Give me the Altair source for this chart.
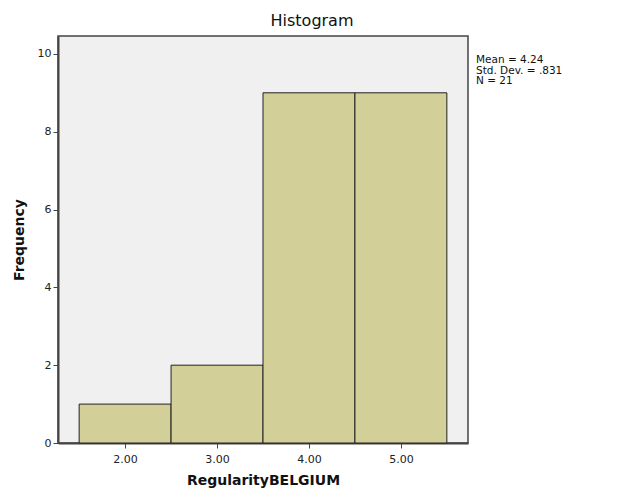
import altair as alt
import pandas as pd

bin_start = [1.5, 2.5, 3.5, 4.5]
bin_end = [2.5, 3.5, 4.5, 5.5]
frequency = [1, 2, 9, 9]
x_ticks = [2, 3, 4, 5]
y_ticks = [0, 2, 4, 6, 8, 10]
stats_lines = ["Mean = 4.24", "Std. Dev. = .831", "N = 21"]

df = pd.DataFrame({"start": bin_start, "end": bin_end, "freq": frequency})

W, H = 410, 407
FONT = "DejaVu Sans"

bars = alt.Chart(df).mark_rect(
    fill="#D3CF98", stroke="#222222", strokeWidth=1
).encode(
    x=alt.X("start:Q",
            scale=alt.Scale(domain=[1.27, 5.73], nice=False, zero=False),
            axis=alt.Axis(values=x_ticks, format=".2f", title="RegularityBELGIUM",
                          grid=False, domainColor="#444444", domainWidth=2,
                          tickColor="#444444", tickSize=5, labelFont=FONT,
                          labelFontSize=11, labelColor="#222222", labelPadding=5,
                          titleFont=FONT, titleFontSize=14, titleFontWeight="bold",
                          titleColor="#111111", titlePadding=9)),
    x2="end:Q",
    y=alt.Y("freq:Q",
            scale=alt.Scale(domain=[0, 10.46], nice=False),
            axis=alt.Axis(values=y_ticks, format="d", title="Frequency",
                          grid=False, domainColor="#444444", domainWidth=2,
                          tickColor="#444444", tickSize=5, labelFont=FONT,
                          labelFontSize=11, labelColor="#222222", labelPadding=2,
                          titleFont=FONT, titleFontSize=14, titleFontWeight="bold",
                          titleColor="#111111", titlePadding=11)),
    y2=alt.datum(0),
)

layers = [bars]
for i, line in enumerate(stats_lines):
    layers.append(
        alt.Chart(pd.DataFrame({"line": [line]})).mark_text(
            align="left", baseline="middle", font=FONT, fontSize=10.5, color="#111111"
        ).encode(x=alt.value(W + 8), y=alt.value(24 + 10.5 * i), text="line:N")
    )

layers.append(
    alt.Chart(pd.DataFrame({"t": ["Histogram"]})).mark_text(
        align="center", baseline="middle", font=FONT, fontSize=16, color="#111111"
    ).encode(x=alt.value(254), y=alt.value(-15), text="t:N")
)

chart = alt.layer(*layers).properties(
    width=W, height=H,
    autosize=alt.AutoSizeParams(type="none"),
    padding={"left": 50, "top": 28, "right": 150, "bottom": 50},
    background="white",
).configure_view(
    fill="#F0F0F0", stroke="#444444", strokeWidth=1.5
)

chart.save("out.html", embed_options={"renderer": "svg", "actions": False})
